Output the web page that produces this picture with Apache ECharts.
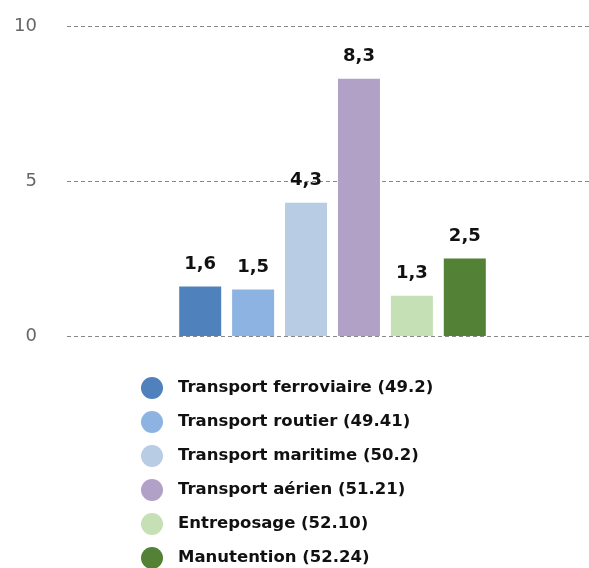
<!DOCTYPE html>
<html>
<head>
<meta charset="utf-8">
<script src="https://cdn.jsdelivr.net/npm/echarts@6/dist/echarts.min.js"></script>
<style>html,body{margin:0;padding:0;background:#fff;}#c{width:589px;height:568px;}</style>
</head>
<body>
<div id="c"></div>
<script>
const seriesNames = [
  'Transport ferroviaire (49.2)',
  'Transport routier (49.41)',
  'Transport maritime (50.2)',
  'Transport aérien (51.21)',
  'Entreposage (52.10)',
  'Manutention (52.24)'
];
const seriesValues = [1.6, 1.5, 4.3, 8.3, 1.3, 2.5];
const colors = ['#4f81bd', '#8db3e2', '#b8cce4', '#b2a1c7', '#c4e0b4', '#538135'];
const yTicks = [0, 5, 10];

const chart = echarts.init(document.getElementById('c'));
const FONT = 'DejaVu Sans';
chart.setOption({
  animation: false,
  textStyle: { fontFamily: FONT },
  grid: { left: 67, width: 531, top: 26, bottom: 232, outerBoundsMode: 'none', containLabel: false },
  xAxis: {
    type: 'category',
    data: [''],
    axisLine: { show: false },
    axisTick: { show: false },
    axisLabel: { show: false }
  },
  yAxis: {
    type: 'value',
    min: yTicks[0],
    max: yTicks[yTicks.length - 1],
    interval: 5,
    axisLine: { show: false },
    axisTick: { show: false },
    axisLabel: { color: '#666', fontSize: 18, margin: 30, fontFamily: FONT },
    splitLine: { lineStyle: { color: '#888', type: [4, 3], width: 1 } }
  },
  legend: {
    orient: 'vertical',
    left: 136,
    top: 372,
    height: 220,
    itemWidth: 22,
    itemHeight: 22,
    itemGap: 12,
    icon: 'circle',
    textStyle: { fontSize: 16.5, fontWeight: 'bold', color: '#111', fontFamily: FONT, padding: [0, 0, 0, 10] },
    data: seriesNames
  },
  series: seriesNames.map((n, i) => ({
    name: n,
    type: 'bar',
    barWidth: 42,
    barGap: '26%',
    itemStyle: { color: colors[i] },
    label: {
      show: true,
      position: 'top',
      distance: 13,
      fontSize: 18,
      fontWeight: 'bold',
      color: '#111',
      fontFamily: FONT,
      formatter: p => String(p.value).replace('.', ',')
    },
    data: [seriesValues[i]]
  }))
});
</script>
</body>
</html>
